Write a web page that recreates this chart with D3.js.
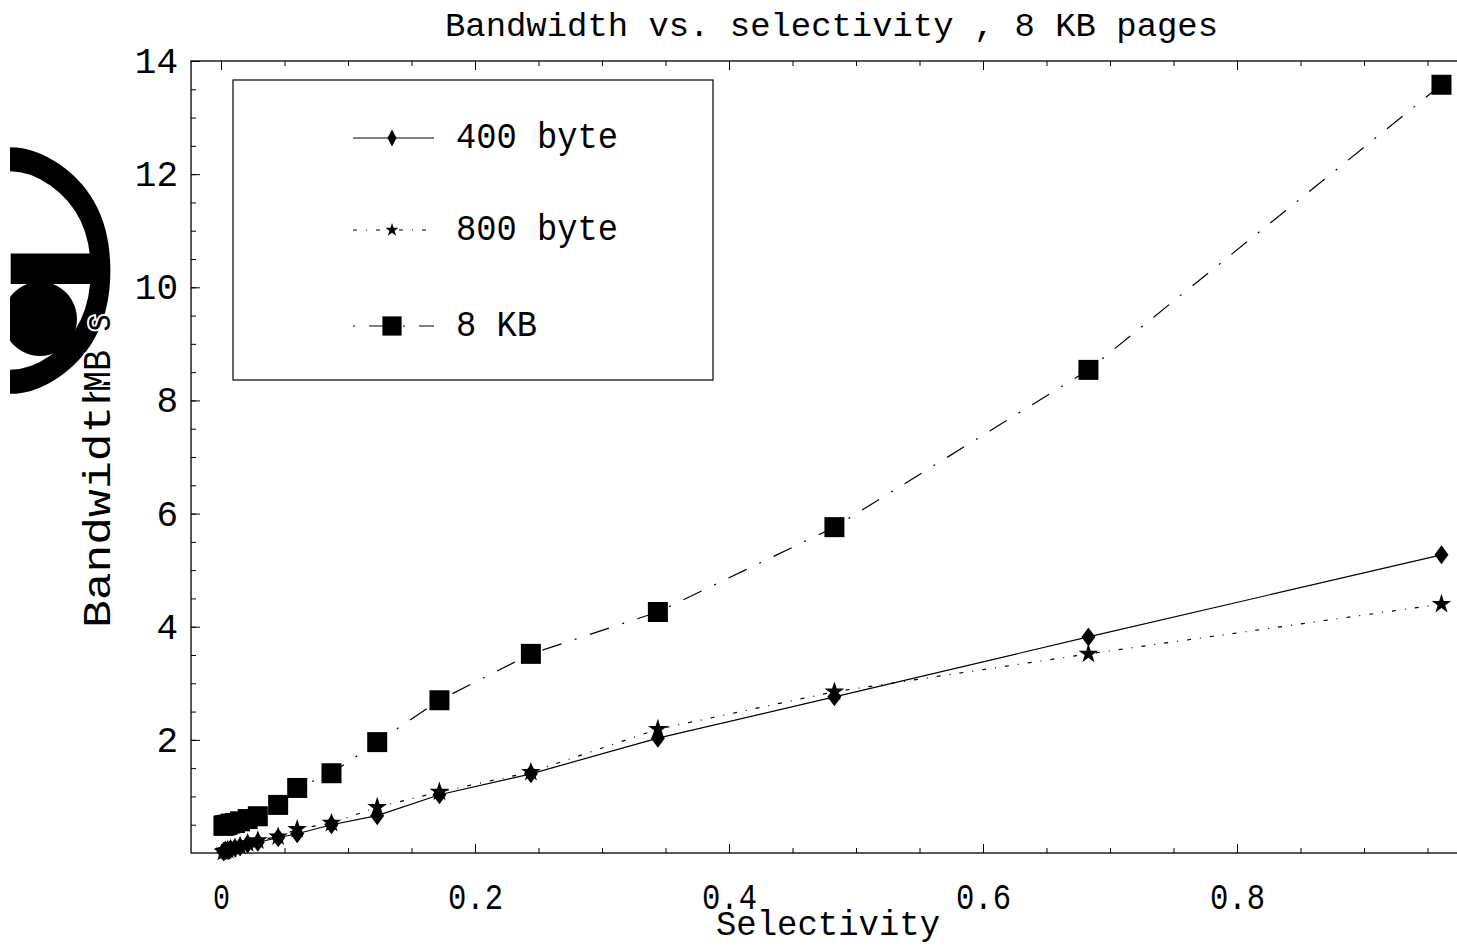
<!DOCTYPE html>
<meta charset="utf-8">
<title>Bandwidth vs. selectivity</title>
<head>
    <script src="https://d3js.org/d3.v7.min.js"></script>
</head>
<body style="margin: 0px; background: white">
<script>

    // data (selectivity, bandwidth in MB/s)
    var selectivity = [0.961, 0.683, 0.483, 0.344, 0.244, 0.172, 0.123, 0.087, 0.060, 0.045, 0.029, 0.021, 0.015, 0.011, 0.0075, 0.0053, 0.0037, 0.0026, 0.0019];
    var bw400 = [5.27, 3.82, 2.76, 2.03, 1.40, 1.03, 0.66, 0.50, 0.34, 0.27, 0.19, 0.16, 0.11, 0.09, 0.07, 0.05, 0.04, 0.03, 0.02];
    var bw800 = [4.40, 3.52, 2.85, 2.19, 1.43, 1.08, 0.81, 0.53, 0.42, 0.29, 0.22, 0.17, 0.12, 0.09, 0.07, 0.05, 0.04, 0.03, 0.02];
    var bw8k = [13.58, 8.54, 5.76, 4.26, 3.52, 2.70, 1.96, 1.41, 1.15, 0.85, 0.65, 0.60, 0.56, 0.53, 0.52, 0.50, 0.49, 0.49, 0.48];
    var seriesNames = ["400 byte", "800 byte", "8 KB"];
    var xTickLabels = ["0", "0.2", "0.4", "0.6", "0.8"];
    var yTickLabels = ["2", "4", "6", "8", "10", "12", "14"];

    var width = 1457,
            height = 946,
            mono = "'Liberation Mono', 'Courier New', monospace";

    var x = d3.scaleLinear().domain([0, 0.8]).range([221, 1237]);
    var y = d3.scaleLinear().domain([0, 14]).range([853, 61]);

    var svg = d3.select("body").append("svg")
            .attr("width", width)
            .attr("height", height)
            .style("display", "block");

    // frame
    var x0 = x(-0.0236), x1 = x(0.995);
    svg.append("rect")
            .attr("x", x0).attr("y", y(14))
            .attr("width", x1 - x0).attr("height", y(0) - y(14))
            .attr("fill", "none").attr("stroke", "#000").attr("stroke-width", 1.3);

    var xMinor = d3.range(0, 0.99, 0.05), xMajor = xTickLabels.map(Number);
    var yMinor = d3.range(0.5, 14.01, 0.5), yMajor = yTickLabels.map(Number);

    function axisGroup(axis, tx, ty) {
        var g = svg.append("g").attr("transform", "translate(" + tx + "," + ty + ")").call(axis);
        g.select(".domain").remove();
        g.selectAll("line").attr("stroke", "#000").attr("stroke-width", 1);
        return g;
    }

    // minor ticks on the visible sides
    axisGroup(d3.axisBottom(x).tickValues(xMinor).tickSize(-5).tickFormat(""), 0, y(0));
    axisGroup(d3.axisTop(x).tickValues(xMinor).tickSize(-5).tickFormat(""), 0, y(14));
    axisGroup(d3.axisLeft(y).tickValues(yMinor).tickSize(-5).tickFormat(""), x0, 0);

    // major ticks + labels
    var gx = axisGroup(d3.axisBottom(x).tickValues(xMajor).tickSize(-9).tickPadding(30)
            .tickFormat(function (d, i) { return xTickLabels[i]; }), 0, y(0));
    gx.selectAll("text").attr("font-family", mono).attr("font-size", 36).attr("fill", "#000")
            .attr("textLength", function (d, i) { return xTickLabels[i].length == 1 ? 17 : 55; })
            .attr("lengthAdjust", "spacingAndGlyphs");
    axisGroup(d3.axisTop(x).tickValues(xMajor).tickSize(-9).tickFormat(""), 0, y(14));
    var gy = axisGroup(d3.axisLeft(y).tickValues(yMajor).tickSize(-9).tickPadding(13)
            .tickFormat(function (d, i) { return yTickLabels[i]; }), x0, 0);
    gy.selectAll("text").attr("font-family", mono).attr("font-size", 36).attr("fill", "#000");

    // title and axis labels
    svg.append("text").attr("x", 445).attr("y", 36)
            .attr("font-family", mono).attr("font-size", 34)
            .attr("textLength", 773).attr("lengthAdjust", "spacingAndGlyphs")
            .text("Bandwidth  vs. selectivity , 8 KB pages");
    svg.append("text").attr("x", 716).attr("y", 935)
            .attr("font-family", mono).attr("font-size", 35)
            .attr("textLength", 224).attr("lengthAdjust", "spacingAndGlyphs")
            .text("Selectivity");

    // the oversized bracket glyphs that sit left of the y label (drawn under it)
    svg.append("clipPath").attr("id", "leftclip").append("rect")
            .attr("x", 10).attr("y", 0).attr("width", 120).attr("height", height);
    var blob = svg.append("g").attr("clip-path", "url(#leftclip)")
            .attr("font-family", "'DejaVu Sans'").attr("fill", "#000");
    blob.append("text").attr("transform", "translate(10,250) scale(1.91,2.33)")
            .attr("text-anchor", "middle").attr("dominant-baseline", "central")
            .attr("stroke", "#000").attr("stroke-width", 4)
            .attr("font-size", 100).text("\u25EF");
    blob.append("text").attr("x", 40).attr("y", 310).attr("text-anchor", "middle")
            .attr("dominant-baseline", "central").attr("font-size", 97).text("\u25CF");
    blob.append("text").attr("transform", "translate(55,262) scale(1.05,0.75)").attr("text-anchor", "middle")
            .attr("dominant-baseline", "central").attr("font-size", 110).text("\u25AC");

    var ylab = [["Bandwidth", 628, 250], ["MB", 392, 42], ["s", 333, 20]];
    ylab.forEach(function (l) {
        svg.append("text").attr("transform", "translate(110," + l[1] + ") rotate(-90)")
                .attr("font-family", mono).attr("font-size", 38)
                .attr("textLength", l[2]).attr("lengthAdjust", "spacingAndGlyphs")
                .attr("stroke", "#fff").attr("stroke-width", 4).attr("paint-order", "stroke")
                .text(l[0]);
    });

    // series
    var sel = selectivity.map(function (s, i) { return i; });
    var series = [
        {name: seriesNames[0], values: bw400, dash: null, marker: "diamond"},
        {name: seriesNames[1], values: bw800, dash: "4,9,1,9", marker: "star"},
        {name: seriesNames[2], values: bw8k, dash: "20,14,2,14", marker: "square"}
    ];

    function markerPath(type, big) {
        if (type == "diamond") {
            var w = big ? 7 : 4.5, h = big ? 9.5 : 8.5;
            return "M0," + (-h) + "L" + w + ",0L0," + h + "L" + (-w) + ",0Z";
        }
        if (type == "star") return d3.symbol(d3.symbolStar, big ? 120 : 55)();
        return d3.symbol(d3.symbolSquare, big ? 400 : 370)();
    }

    series.forEach(function (s) {
        var line = d3.line()
                .x(function (i) { return x(selectivity[i]); })
                .y(function (i) { return y(s.values[i]); });
        svg.append("path").datum(sel)
                .attr("d", line)
                .attr("fill", "none").attr("stroke", "#000").attr("stroke-width", 1.2)
                .attr("stroke-dasharray", s.dash);
        svg.append("g").selectAll("path").data(sel).enter().append("path")
                .attr("transform", function (i) { return "translate(" + x(selectivity[i]) + "," + y(s.values[i]) + ")"; })
                .attr("d", markerPath(s.marker, true))
                .attr("fill", "#000");
    });

    // legend
    svg.append("rect").attr("x", 233).attr("y", 80).attr("width", 480).attr("height", 300)
            .attr("fill", "none").attr("stroke", "#000").attr("stroke-width", 1.2);
    var legendY = [138, 230, 326], textLen = [162, 162, 81];
    series.forEach(function (s, k) {
        svg.append("line").attr("x1", 353).attr("x2", 434).attr("y1", legendY[k]).attr("y2", legendY[k])
                .attr("stroke", "#000").attr("stroke-width", 1.2)
                .attr("stroke-dasharray", k == 2 ? "2,14,20,14" : s.dash);
        svg.append("path").attr("transform", "translate(392," + legendY[k] + ")")
                .attr("d", markerPath(s.marker, false)).attr("fill", "#000");
        svg.append("text").attr("x", 456).attr("y", legendY[k] + 10)
                .attr("font-family", mono).attr("font-size", 36)
                .attr("textLength", textLen[k]).attr("lengthAdjust", "spacingAndGlyphs")
                .text(s.name);
    });

</script>
